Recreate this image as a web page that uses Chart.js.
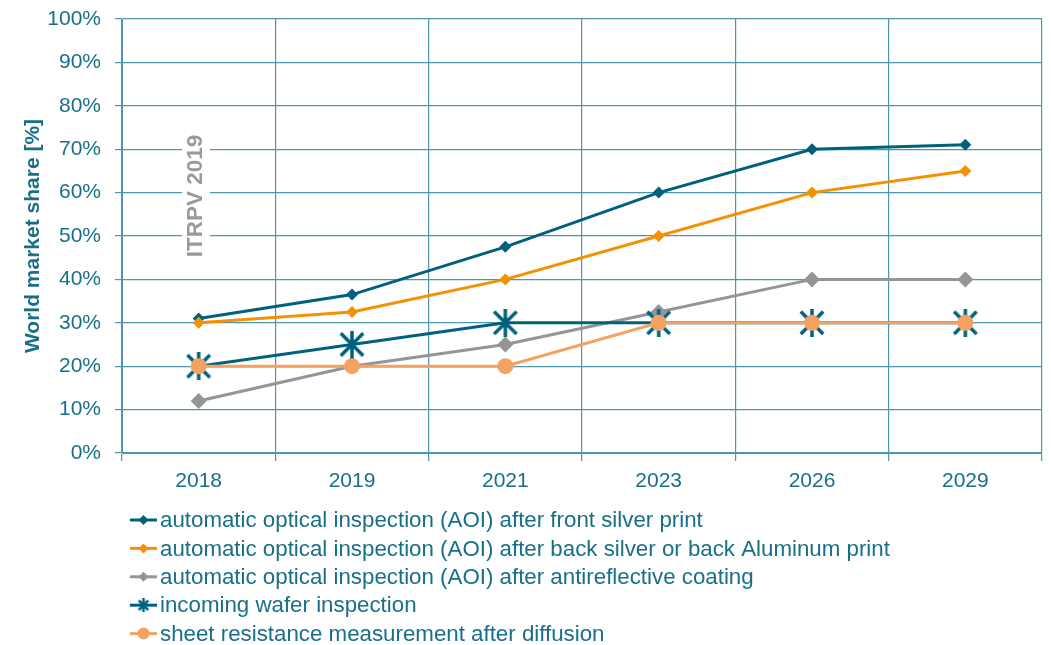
<!DOCTYPE html>
<html>
<head>
<meta charset="utf-8">
<script src="https://cdn.jsdelivr.net/npm/chart.js@4"></script>
<style>
  body { margin: 0; background: #fff; }
  #wrap { width: 1051px; height: 645px; position: relative; }
</style>
</head>
<body>
<div id="wrap"><canvas id="chart"></canvas></div>
<script>
// Chart data
const years = ['2018', '2019', '2021', '2023', '2026', '2029'];
const frontSilver = [31, 36.5, 47.5, 60, 70, 71];
const backPrint = [30, 32.5, 40, 50, 60, 65];
const arCoating = [12, 20, 25, 32.5, 40, 40];
const incomingWafer = [20, 25, 30, 30, 30, 30];
const sheetResistance = [20, 20, 20, 30, 30, 30];
const seriesNames = [
    'automatic optical inspection (AOI) after front silver print',
    'automatic optical inspection (AOI) after back silver or back Aluminum print',
    'automatic optical inspection (AOI) after antireflective coating',
    'incoming wafer inspection',
    'sheet resistance measurement after diffusion'
];
const yTickValues = [0, 10, 20, 30, 40, 50, 60, 70, 80, 90, 100];

const teal = '#00617d';
const orange = '#f39200';
const grey = '#959595';
const lightOrange = '#f4a261';
const textTeal = '#186f8a';
const gridColor = '#4e95ae';
const fontFamily = '"Liberation Sans", Arial, sans-serif';

// excel style asterisk marker (X with a vertical bar)
function makeStar(size, color, lw) {
    const c = document.createElement('canvas');
    c.width = size; c.height = size;
    const g = c.getContext('2d');
    g.strokeStyle = color;
    g.lineWidth = lw;
    const m = lw / 2 + 1;
    g.beginPath();
    g.moveTo(m, m); g.lineTo(size - m, size - m);
    g.moveTo(size - m, m); g.lineTo(m, size - m);
    g.moveTo(size / 2, 0); g.lineTo(size / 2, size);
    g.stroke();
    return c;
}

const starBig = makeStar(28, teal, 3.5);
const starSmall = makeStar(14, teal, 2.5);

const styles = [
    { color: teal, pointStyle: 'rectRot', radius: 6, legendRadius: 5 },
    { color: orange, pointStyle: 'rectRot', radius: 6, legendRadius: 5 },
    { color: grey, pointStyle: 'rectRot', radius: 8, legendRadius: 5 },
    { color: teal, pointStyle: starBig, radius: 14, legend: starSmall },
    { color: lightOrange, pointStyle: 'circle', radius: 8, legendRadius: 6 }
];
const seriesData = [frontSilver, backPrint, arCoating, incomingWafer, sheetResistance];

const datasets = seriesData.map((d, i) => ({
    label: seriesNames[i],
    data: d,
    borderColor: styles[i].color,
    backgroundColor: styles[i].color,
    borderWidth: 3,
    pointStyle: styles[i].pointStyle,
    pointRadius: styles[i].radius,
    pointHoverRadius: styles[i].radius,
    pointBorderWidth: 0,
    tension: 0,
    order: 5 - i
}));

// white box + rotated "ITRPV 2019" label, custom legend below the plot
const decorations = {
    id: 'decorations',
    beforeDatasetsDraw(chart) {
        const ctx = chart.ctx;
        ctx.save();
        ctx.fillStyle = '#fff';
        ctx.fillRect(182, 128, 28, 136);
        ctx.translate(196, 196);
        ctx.rotate(-Math.PI / 2);
        ctx.font = 'bold 22.5px ' + fontFamily;
        ctx.fillStyle = '#9a9a9a';
        ctx.textAlign = 'center';
        ctx.textBaseline = 'middle';
        ctx.fillText('ITRPV 2019', 0, 0);
        ctx.restore();
    },
    afterDraw(chart) {
        const ctx = chart.ctx;
        ctx.save();
        ctx.font = '22.3px ' + fontFamily;
        ctx.textBaseline = 'middle';
        chart.data.datasets.forEach((ds, i) => {
            const y = 520 + i * 28.4;
            const st = styles[i];
            ctx.strokeStyle = st.color;
            ctx.lineWidth = 3;
            ctx.beginPath();
            ctx.moveTo(130, y);
            ctx.lineTo(157, y);
            ctx.stroke();
            ctx.fillStyle = st.color;
            if (st.legend) {
                ctx.drawImage(st.legend, 143.5 - 7, y - 7);
            } else if (st.pointStyle === 'circle') {
                ctx.beginPath();
                ctx.arc(143.5, y, st.legendRadius, 0, Math.PI * 2);
                ctx.fill();
            } else {
                const r = st.legendRadius;
                ctx.beginPath();
                ctx.moveTo(143.5, y - r);
                ctx.lineTo(143.5 + r, y);
                ctx.lineTo(143.5, y + r);
                ctx.lineTo(143.5 - r, y);
                ctx.closePath();
                ctx.fill();
            }
            ctx.fillStyle = textTeal;
            ctx.fillText(ds.label, 160, y + 1);
        });
        ctx.restore();
    }
};

const ctx = document.getElementById('chart').getContext('2d');
new Chart(ctx, {
    type: 'line',
    data: { labels: years, datasets: datasets },
    options: {
        responsive: true,
        maintainAspectRatio: false,
        animation: false,
        layout: { autoPadding: false, padding: { top: 19, right: 9, bottom: 152, left: 21 } },
        scales: {
            x: {
                offset: true,
                grid: { color: gridColor, offset: true, tickLength: 8, lineWidth: 1.2 },
                border: { color: gridColor },
                ticks: { color: textTeal, font: { family: fontFamily, size: 21 }, padding: 8 },
                afterFit: s => { s.height = 40; s.paddingLeft = 0; s.paddingRight = 0; }
            },
            y: {
                min: 0,
                max: 100,
                afterBuildTicks: s => { s.ticks = yTickValues.map(v => ({ value: v })); },
                grid: { color: gridColor, tickLength: 7, lineWidth: 1.2 },
                border: { color: gridColor },
                ticks: {
                    color: textTeal,
                    font: { family: fontFamily, size: 21 },
                    padding: 14,
                    callback: v => v + '%'
                },
                title: {
                    display: true,
                    text: 'World market share [%]',
                    color: textTeal,
                    font: { family: fontFamily, size: 21, weight: 'bold' },
                    padding: 0
                },
                afterFit: s => { s.width = 101; s.paddingTop = 0; s.paddingBottom = 0; }
            }
        },
        plugins: {
            legend: { display: false },
            tooltip: { enabled: false }
        }
    },
    plugins: [decorations]
});
</script>
</body>
</html>
